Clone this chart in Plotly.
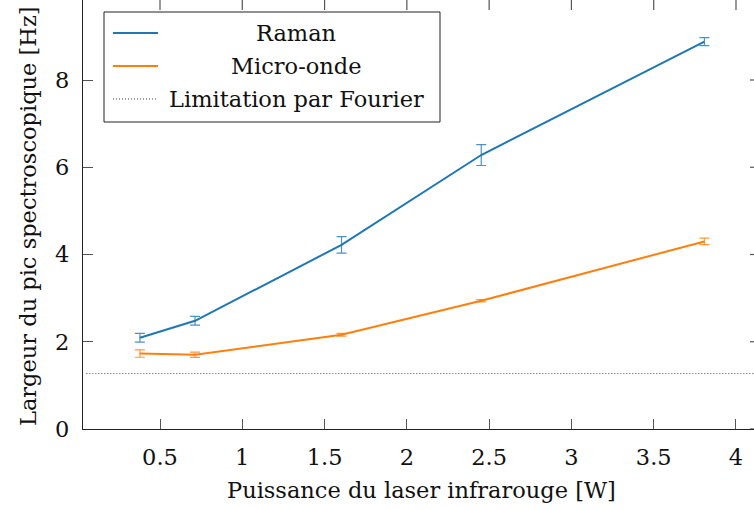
import plotly.graph_objects as go

# ---- data ----
power = [0.378, 0.713, 1.603, 2.452, 3.808]
raman = [2.09, 2.48, 4.22, 6.28, 8.88]
raman_err = [0.10, 0.10, 0.19, 0.24, 0.09]
micro = [1.73, 1.70, 2.16, 2.94, 4.30]
micro_err = [0.085, 0.06, 0.03, 0.025, 0.075]
fourier_limit = 1.27
x_ticks = [0.5, 1, 1.5, 2, 2.5, 3, 3.5, 4]
x_ticklabels = ["0.5", "1", "1.5", "2", "2.5", "3", "3.5", "4"]
y_ticks = [0, 2, 4, 6, 8]
series_names = ["Raman", "Micro-onde", "Limitation par Fourier"]

BLUE = "#1f77b4"
ORANGE = "#ff7f0e"
FONT = "DejaVu Serif"
FS = 22.5
TICKCOL = "#555"

W, H = 754, 510
L, B, T, R = 83, 81, 0, 0
PW, PH = W - L - R, H - B - T


def px(x):
    return (x - L) / PW


def py(y):
    return (H - B - y) / PH


fig = go.Figure()
fig.add_trace(go.Scatter(
    x=power, y=raman, mode="lines", name=series_names[0],
    line=dict(color=BLUE, width=2),
    error_y=dict(type="data", array=raman_err, visible=True,
                 color="rgba(31,119,180,0.8)", thickness=1.2, width=5),
    showlegend=False))
fig.add_trace(go.Scatter(
    x=power, y=micro, mode="lines", name=series_names[1],
    line=dict(color=ORANGE, width=2),
    error_y=dict(type="data", array=micro_err, visible=True,
                 color="rgba(255,127,14,0.8)", thickness=1.2, width=5),
    showlegend=False))

fig.add_shape(type="line", xref="paper", yref="y", x0=0.005, x1=1,
              y0=fourier_limit, y1=fourier_limit,
              line=dict(color="#444", width=1, dash="1px,2px"))

# mirrored ticks (top and right), at the axis tick values
for xv in x_ticks:
    fig.add_shape(type="line", xref="x", yref="paper", x0=xv, x1=xv,
                  y0=1.01, y1=1 - 10 / PH, line=dict(color=TICKCOL, width=1.2),
                  layer="above")
for yv in y_ticks:
    fig.add_shape(type="line", xref="paper", yref="y", x0=1.01, x1=1 - 4 / PW,
                  y0=yv, y1=yv, line=dict(color=TICKCOL, width=1.2), layer="above")

# manual legend
lx0, lx1, ly0, ly1 = 104, 440, 12, 122
fig.add_shape(type="rect", xref="paper", yref="paper",
              x0=px(lx0), x1=px(lx1), y0=py(ly1), y1=py(ly0),
              line=dict(color="#222", width=1), fillcolor="white", layer="above")
rows = [33, 66, 99]
styles = [dict(color=BLUE, width=2), dict(color=ORANGE, width=2),
          dict(color="#444", width=1, dash="1px,2px")]
for r, st, name in zip(rows, styles, series_names):
    fig.add_shape(type="line", xref="paper", yref="paper",
                  x0=px(113), x1=px(158), y0=py(r), y1=py(r), line=st, layer="above")
    fig.add_annotation(xref="paper", yref="paper", x=px(296), y=py(r),
                       text=name, showarrow=False, xanchor="center", yanchor="middle",
                       font=dict(family=FONT, size=FS, color="#111"))

# axis titles
fig.add_annotation(xref="paper", yref="paper", x=px(421), y=py(490),
                   text="Puissance du laser infrarouge [W]", showarrow=False,
                   xanchor="center", yanchor="middle",
                   font=dict(family=FONT, size=FS, color="#111"))
fig.add_annotation(xref="paper", yref="paper", x=px(28), y=py(216),
                   text="Largeur du pic spectroscopique [Hz]", showarrow=False,
                   textangle=-90, xanchor="center", yanchor="middle",
                   font=dict(family=FONT, size=FS, color="#111"))

x0 = (L - 77.71) / 164.57
x1 = (W - R - 77.71) / 164.57
ytop = (H - B) / 43.625

axis_common = dict(showgrid=False, zeroline=False, ticks="inside", ticklen=10,
                   tickcolor=TICKCOL, tickwidth=1)
fig.update_layout(
    width=W, height=H,
    margin=dict(l=L, r=R, t=T, b=B),
    paper_bgcolor="white", plot_bgcolor="white",
    font=dict(family=FONT, size=FS, color="#111"),
    xaxis=dict(range=[x0, x1], tickvals=x_ticks, ticktext=x_ticklabels,
               showline=True, linecolor="#222", linewidth=1.3,
               ticklabelstandoff=8, **axis_common),
    yaxis=dict(range=[0, ytop], tickvals=y_ticks,
               showline=True, linecolor="#222", linewidth=1.3,
               ticklabelstandoff=8, **axis_common),
)

fig.write_html("out.html", config={"displayModeBar": False},
               post_script="document.body.style.margin='0';document.body.style.overflow='hidden';")
